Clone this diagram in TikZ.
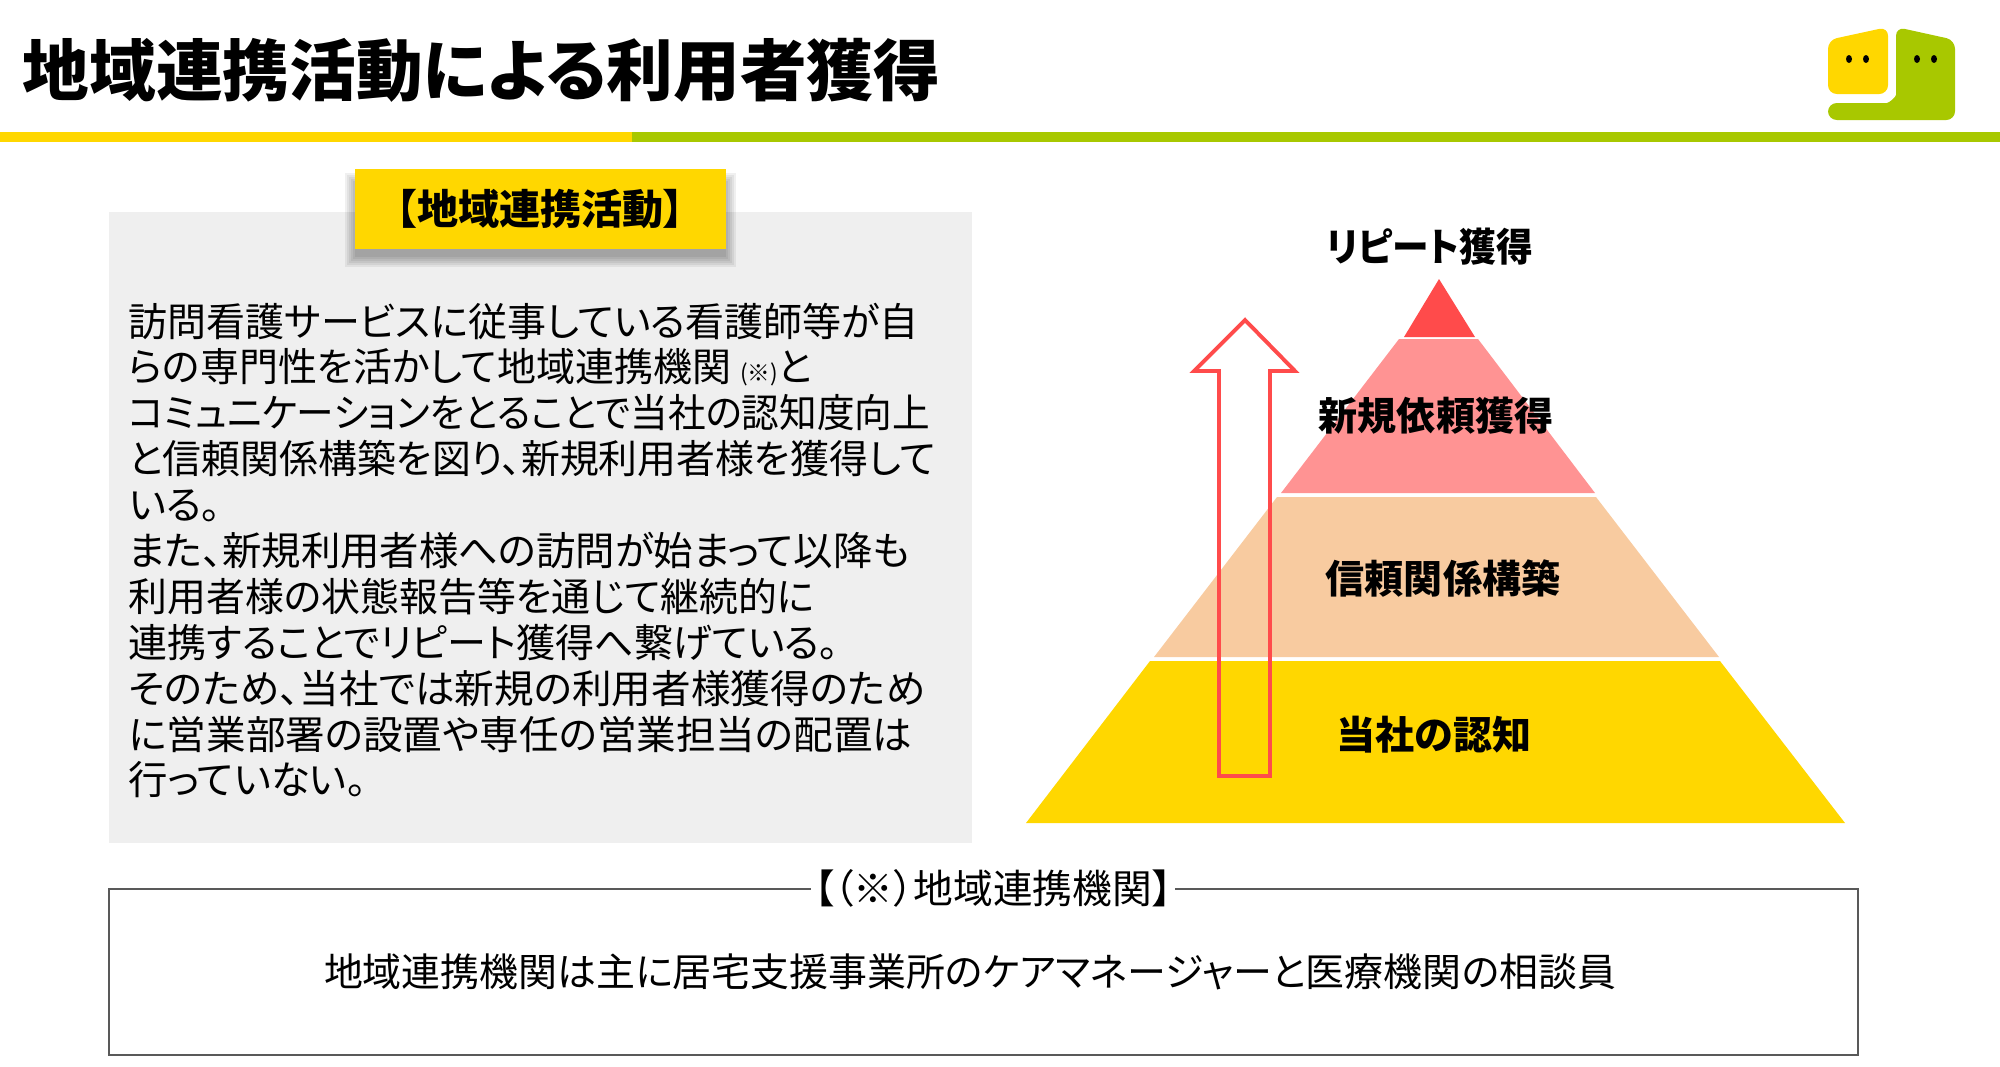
\documentclass[tikz,border=0pt]{standalone}
\usepackage{fontspec}
\usepackage{graphicx}
\setmainfont[RawFeature=+palt]{Noto Sans CJK JP}
\usepackage{tikz}
\usetikzlibrary{positioning}

\definecolor{tyellow}{HTML}{FFD700}
\definecolor{tgreen}{HTML}{A8C800}
\definecolor{tred}{HTML}{FF4B4B}
\definecolor{tpink}{HTML}{FF9393}
\definecolor{tpeach}{HTML}{F8CBA0}
\definecolor{tgrey}{HTML}{EFEFEF}
\definecolor{tline}{HTML}{595959}

\newcommand{\fitline}[2]{\scalebox{#1}[1]{#2}}

\tikzset{
  tierlabel/.style={font=\fontsize{11.1}{13}\selectfont\bfseries, text=black, inner sep=0pt},
  eye/.style={fill=black},
}

\begin{document}
\begin{tikzpicture}[x=0.01cm,y=-0.01cm]
  \useasboundingbox (0,0) rectangle (2000,1066);

  % title and bar
  \node[anchor=west, inner sep=0pt, font=\fontsize{18.97}{22}\selectfont\bfseries] (title) at (22,70) {地域連携活動による利用者獲得};
  \fill[tyellow] (0,132) rectangle (632,142);
  \fill[tgreen] (632,132) rectangle (2000,142);

  % logo
  \fill[tyellow, rounded corners=2.5pt] (1828,40) -- (1888,27) -- (1888,94) -- (1828,94) -- cycle;
  \fill[tgreen, rounded corners=2.5pt] (1896,27) -- (1955,40) -- (1955,120) -- (1828,120) -- (1828,103) -- (1878,103) .. controls (1889,103) and (1896,97) .. (1896,86) -- cycle;
  \foreach \ex in {1849,1866,1917,1934}
    \fill[eye] (\ex,59) ellipse (3 and 4);

  % left panel
  \fill[tgrey] (109,212) rectangle (972,843);
  \foreach \s in {10,8,6,4,2,0}
    \fill[black, opacity=0.06] (355-\s,169+14-\s) rectangle (726+\s,249+8+\s);
  \node[fill=tyellow, minimum width=3.71cm, minimum height=0.8cm, inner sep=0pt, font=\fontsize{11.7}{13}\selectfont\bfseries] (panelhead) at (540.5,209) {【地域連携活動】};
  \node[anchor=north west, align=left, inner sep=0pt, font=\fontsize{11.2}{13.05}\selectfont] (paneltext) at (128,302) {\fitline{0.99}{訪問看護サービスに従事している看護師等が自}\\
\fitline{0.99}{らの専門性を活かして地域連携機関 {\fontsize{6.5}{6.5}\selectfont (※)}と}\\
\fitline{0.955}{コミュニケーションをとることで当社の認知度向上}\\
\fitline{0.987}{と信頼関係構築を図り、新規利用者様を獲得して}\\
いる。\\
また、新規利用者様への訪問が始まって以降も\\
\fitline{0.987}{利用者様の状態報告等を通じて継続的に}\\
\fitline{0.99}{連携することでリピート獲得へ繋げている。}\\
\fitline{1.005}{そのため、当社では新規の利用者様獲得のため}\\
\fitline{1.005}{に営業部署の設置や専任の営業担当の配置は}\\
行っていない。};

  % pyramid
  \fill[tred] (1439,279) -- (1475,337) -- (1404,337) -- cycle;
  \fill[tpink] (1399,339) -- (1478,339) -- (1595,493) -- (1281,493) -- cycle;
  \fill[tpeach] (1277,497) -- (1596,497) -- (1719,657) -- (1154,657) -- cycle;
  \fill[tyellow] (1150,661) -- (1720,661) -- (1845,823) -- (1026,823) -- cycle;

  \draw[tred, line width=1.1pt] (1245,320) -- (1295,371) -- (1270,371) -- (1270,776) -- (1219,776) -- (1219,371) -- (1194,371) -- cycle;

  \node[tierlabel] (repeat) at (1430,247) {\fitline{0.94}{リピート獲得}};
  \node[tierlabel] (newreq) at (1436,416) {新規依頼獲得};
  \node[tierlabel] (trust) at (1443,579) {信頼関係構築};
  \node[tierlabel] (aware) at (1434,735) {当社の認知};

  % bottom box
  \draw[tline, line width=0.45pt] (109,889) rectangle (1858,1055);
  \node[fill=white, inner xsep=1pt, inner ysep=0pt, font=\fontsize{11.3}{13}\selectfont] (boxhead) at (993,888) {【（※）地域連携機関】};
  \node[font=\fontsize{11.07}{13}\selectfont, inner sep=0pt] (boxtext) at (970,972) {地域連携機関は主に居宅支援事業所のケアマネージャーと医療機関の相談員};
\end{tikzpicture}
\end{document}
